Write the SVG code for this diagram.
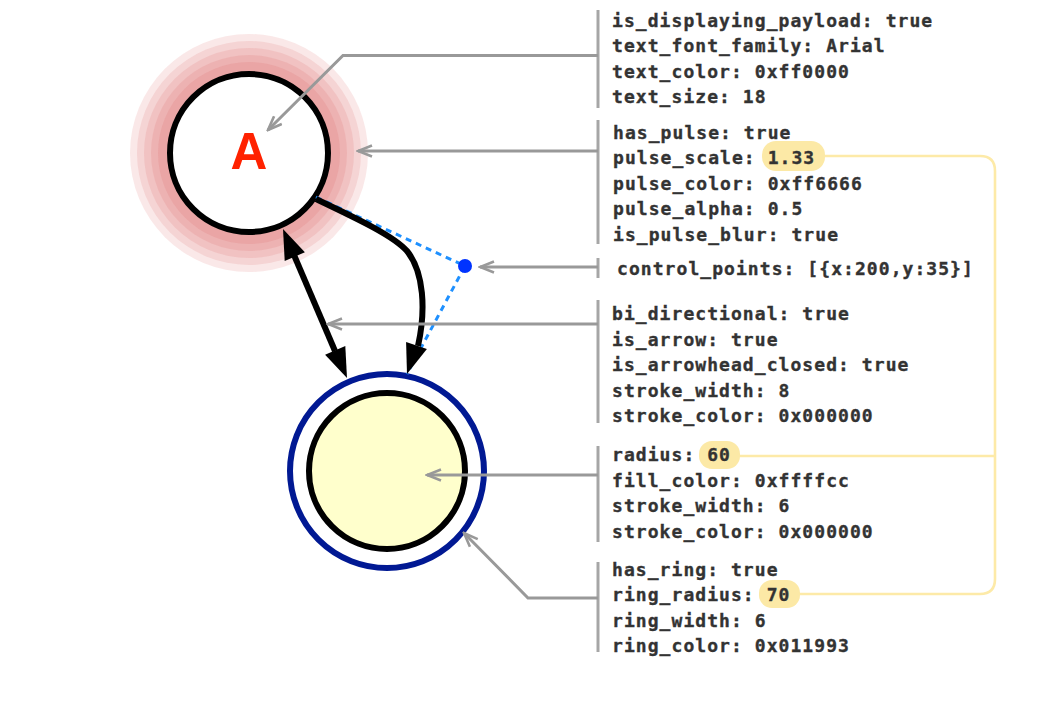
<svg xmlns="http://www.w3.org/2000/svg" width="1059" height="721" viewBox="0 0 1059 721">
<defs>
<style>
.lbl{font-family:"DejaVu Sans Mono","Liberation Mono",monospace;font-weight:bold;font-size:18px;letter-spacing:1.06px;fill:#333;stroke:#333;stroke-width:0.35px}
.ann{fill:none;stroke:#999;stroke-width:3}
.bar{stroke:#a6a6a6;stroke-width:3}
.pill{fill:#fce9a6}
.yl{fill:none;stroke:#fdeaa8;stroke-width:2.6}
.pulse{fill:#dc5050;fill-opacity:0.13}
</style>
<marker id="garrow" viewBox="0 0 17 14" refX="15" refY="7" markerWidth="17" markerHeight="14" orient="auto" markerUnits="userSpaceOnUse">
<path d="M1,1.5 L15,7 L1,12.5" fill="none" stroke="#999" stroke-width="2.6"/>
</marker>
</defs>
<rect width="1059" height="721" fill="#fff"/>

<g id="nodeA">
<circle class="pulse" cx="249" cy="153" r="119"/>
<circle class="pulse" cx="249" cy="153" r="112"/>
<circle class="pulse" cx="249" cy="153" r="105"/>
<circle class="pulse" cx="249" cy="153" r="98"/>
<circle class="pulse" cx="249" cy="153" r="91"/>
<circle cx="249" cy="153" r="79" fill="#fff" stroke="#000" stroke-width="6"/>
<text x="249" y="169" text-anchor="middle" font-family="Liberation Sans, Arial, sans-serif" font-weight="bold" font-size="51" fill="#ff2200">A</text>
</g>

<g id="nodeB">
<circle cx="387" cy="471" r="97" fill="#fff" stroke="#011993" stroke-width="6"/>
<circle cx="387" cy="471" r="78" fill="#ffffcc" stroke="#000" stroke-width="6"/>
</g>

<g id="connectors">
<path d="M316,197 L465,266 L407,374" fill="none" stroke="#1e90ff" stroke-width="3" stroke-dasharray="6,5"/>
<path d="M316,199 C358,219 394,236 407,251 C424,272 426,310 418,346" fill="none" stroke="#000" stroke-width="6"/>
<polygon points="407,374 426.9,349 406.1,342" fill="#000"/>
<line x1="294" y1="255" x2="335" y2="351" stroke="#000" stroke-width="6"/>
<polygon points="283,229 304.9,252.3 284.7,260.9" fill="#000"/>
<polygon points="347,378 345.3,346.1 325.1,354.7" fill="#000"/>
<circle cx="465" cy="266" r="7" fill="#0033ff"/>
</g>

<g id="annotations">
<line class="bar" x1="598" y1="10" x2="598" y2="108"/>
<line class="bar" x1="598" y1="120" x2="598" y2="244"/>
<line class="bar" x1="598" y1="258" x2="598" y2="278"/>
<line class="bar" x1="598" y1="300" x2="598" y2="423"/>
<line class="bar" x1="598" y1="446" x2="598" y2="542"/>
<line class="bar" x1="598" y1="562" x2="598" y2="652"/>
<path class="ann" d="M598,55.5 L343,55.5 L268,130" marker-end="url(#garrow)"/>
<path class="ann" d="M598,151 L358,151" marker-end="url(#garrow)"/>
<path class="ann" d="M598,267 L480,267" marker-end="url(#garrow)"/>
<path class="ann" d="M598,324 L328,324" marker-end="url(#garrow)"/>
<path class="ann" d="M598,475 L427,475" marker-end="url(#garrow)"/>
<path class="ann" d="M598,598 L528,598 L464,533" marker-end="url(#garrow)"/>
</g>

<g id="links">
<path class="yl" d="M824,156 L980,156 Q995,156 995,171 L995,579 Q995,594 980,594 L798,594"/>
<path class="yl" d="M739,456 L995,456"/>
<rect class="pill" x="762" y="141" width="63" height="30" rx="14"/>
<rect class="pill" x="699" y="441" width="41" height="28" rx="13"/>
<rect class="pill" x="759" y="580" width="41" height="28" rx="13"/>
</g>

<g id="labels">
<text class="lbl" x="612" y="26.5">is_displaying_payload: true</text>
<text class="lbl" x="612" y="52">text_font_family: Arial</text>
<text class="lbl" x="612" y="77.5">text_color: 0xff0000</text>
<text class="lbl" x="612" y="103">text_size: 18</text>

<text class="lbl" x="613" y="138.5">has_pulse: true</text>
<text class="lbl" x="613" y="164">pulse_scale: 1.33</text>
<text class="lbl" x="613" y="189.5">pulse_color: 0xff6666</text>
<text class="lbl" x="613" y="215">pulse_alpha: 0.5</text>
<text class="lbl" x="613" y="240.5">is_pulse_blur: true</text>

<text class="lbl" x="617" y="274.5">control_points: [{x:200,y:35}]</text>

<text class="lbl" x="612" y="320">bi_directional: true</text>
<text class="lbl" x="612" y="345.5">is_arrow: true</text>
<text class="lbl" x="612" y="371">is_arrowhead_closed: true</text>
<text class="lbl" x="612" y="396.5">stroke_width: 8</text>
<text class="lbl" x="612" y="422">stroke_color: 0x000000</text>

<text class="lbl" x="612" y="461">radius: 60</text>
<text class="lbl" x="612" y="486.5">fill_color: 0xffffcc</text>
<text class="lbl" x="612" y="512">stroke_width: 6</text>
<text class="lbl" x="612" y="537.5">stroke_color: 0x000000</text>

<text class="lbl" x="612" y="575.5">has_ring: true</text>
<text class="lbl" x="612" y="601">ring_radius: 70</text>
<text class="lbl" x="612" y="626.5">ring_width: 6</text>
<text class="lbl" x="612" y="652">ring_color: 0x011993</text>
</g>
</svg>
